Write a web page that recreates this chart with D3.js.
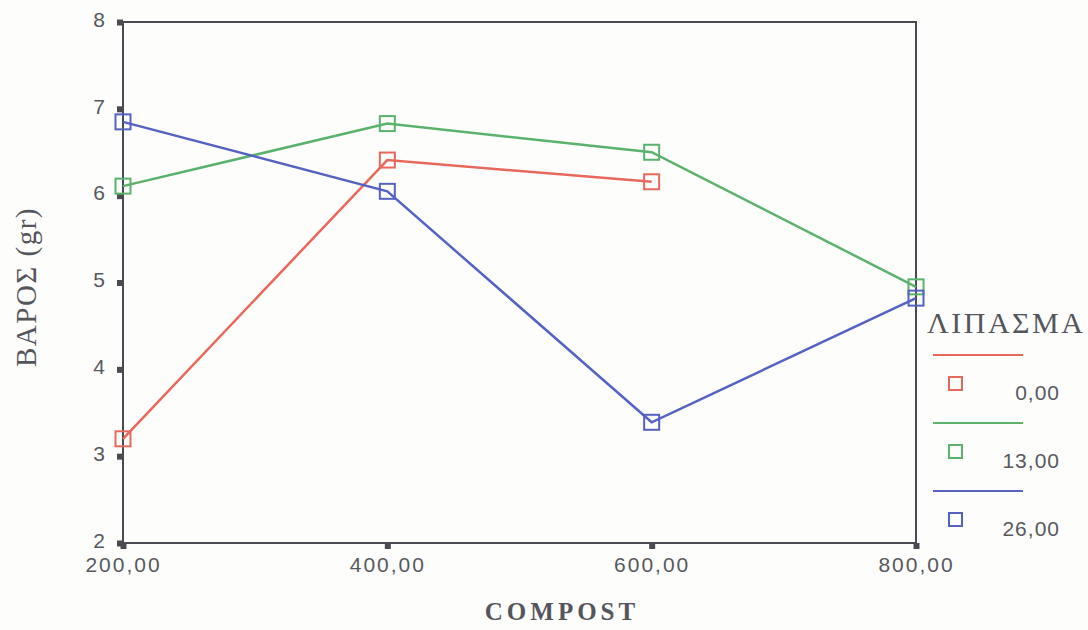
<!DOCTYPE html>
<html>
<head>
<meta charset="utf-8">
<script src="https://cdn.jsdelivr.net/npm/d3@7"></script>
<style>
  html, body { margin: 0; padding: 0; background: #fdfefc; }
  svg { display: block; }
</style>
</head>
<body>
<svg id="chart" width="1088" height="630"></svg>
<script>
// COMPOST levels (x axis) and weight per fertiliser level
const compost = [200, 400, 600, 800];
const seriesNames = ["0,00", "13,00", "26,00"];
const weight0 = [3.20, 6.41, 6.16, null];
const weight13 = [6.11, 6.83, 6.50, 4.95];
const weight26 = [6.85, 6.05, 3.39, 4.82];
const yTicks = [2, 3, 4, 5, 6, 7, 8];
const xTickLabels = ["200,00", "400,00", "600,00", "800,00"];

const colors = ["#e8685c", "#5bb26c", "#5662c2"];
const seriesValues = [weight0, weight13, weight26];

const svg = d3.select("#chart");
const W = 1088, H = 630;
const margin = { left: 123, top: 22, right: W - 916, bottom: H - 543 };

const x = d3.scaleLinear().domain([200, 800]).range([margin.left, W - margin.right]);
const y = d3.scaleLinear().domain([2, 8]).range([H - margin.bottom, margin.top]);

const axisColor = "#4a4a50";
const tickTextColor = "#58585e";
const sans = "Liberation Sans, Arial, sans-serif";
const serif = "Liberation Serif, Times New Roman, serif";

// frame
svg.append("rect")
  .attr("x", x(200)).attr("y", y(8))
  .attr("width", x(800) - x(200)).attr("height", y(2) - y(8))
  .attr("fill", "none").attr("stroke", axisColor).attr("stroke-width", 2);

// y axis
const yAxis = d3.axisLeft(y).tickValues(yTicks).tickFormat(d3.format("d")).tickSize(0).tickPadding(18);
const gy = svg.append("g").attr("transform", `translate(${x(200)},0)`).call(yAxis);
gy.select(".domain").remove();
gy.selectAll("text").attr("font-family", sans)
  .attr("font-size", 21).attr("fill", tickTextColor).attr("dy", "0.2em");
gy.selectAll(".tick").append("rect")
  .attr("x", -6).attr("y", -3).attr("width", 6).attr("height", 6).attr("fill", axisColor);

// x axis
const xAxis = d3.axisBottom(x).tickValues(compost).tickFormat((d, i) => xTickLabels[i]).tickSize(0);
const gx = svg.append("g").attr("transform", `translate(0,${y(2)})`).call(xAxis);
gx.select(".domain").remove();
gx.selectAll("text").attr("font-family", sans)
  .attr("font-size", 21).attr("letter-spacing", 2).attr("fill", tickTextColor)
  .attr("y", 29).attr("dy", null);
gx.selectAll(".tick").append("rect")
  .attr("x", -3).attr("y", 0).attr("width", 6).attr("height", 6).attr("fill", axisColor);

// axis titles
svg.append("text")
  .attr("transform", `translate(36,287) rotate(-90)`)
  .attr("text-anchor", "middle")
  .attr("font-family", serif)
  .attr("font-size", 29).attr("letter-spacing", 1.5).attr("fill", "#55555c")
  .text("ΒΑΡΟΣ (gr)");

svg.append("text")
  .attr("x", 562).attr("y", 620)
  .attr("text-anchor", "middle")
  .attr("font-family", serif).attr("font-weight", "bold")
  .attr("font-size", 25).attr("letter-spacing", 4).attr("fill", "#55555c")
  .text("COMPOST");

// series lines and markers
const line = d3.line()
  .defined(d => d.v != null)
  .x(d => x(d.c)).y(d => y(d.v));

const mk = 15;
seriesValues.forEach((vals, i) => {
  const pts = compost.map((c, j) => ({ c, v: vals[j] }));
  svg.append("path").datum(pts)
    .attr("d", line).attr("fill", "none")
    .attr("stroke", colors[i]).attr("stroke-width", 2.5);
  svg.append("g").selectAll("rect").data(pts.filter(d => d.v != null)).join("rect")
    .attr("x", d => x(d.c) - mk / 2).attr("y", d => y(d.v) - mk / 2)
    .attr("width", mk).attr("height", mk)
    .attr("fill", "none").attr("stroke", colors[i]).attr("stroke-width", 2);
});

// legend
svg.append("text")
  .attr("x", 927).attr("y", 333)
  .attr("font-family", serif)
  .attr("font-size", 30).attr("letter-spacing", 2.5).attr("fill", "#55555c")
  .text("ΛΙΠΑΣΜΑ");

seriesNames.forEach((name, i) => {
  const base = 355 + i * 68;
  const g = svg.append("g");
  g.append("line")
    .attr("x1", 933).attr("x2", 1023).attr("y1", base).attr("y2", base)
    .attr("stroke", colors[i]).attr("stroke-width", 2);
  g.append("rect")
    .attr("x", 949).attr("y", base + 22).attr("width", 13).attr("height", 13)
    .attr("fill", "none").attr("stroke", colors[i]).attr("stroke-width", 2);
  g.append("text")
    .attr("x", 1060).attr("y", base + 45)
    .attr("text-anchor", "end")
    .attr("font-family", sans)
    .attr("font-size", 21).attr("letter-spacing", 1).attr("fill", tickTextColor)
    .text(name);
});
</script>
</body>
</html>
